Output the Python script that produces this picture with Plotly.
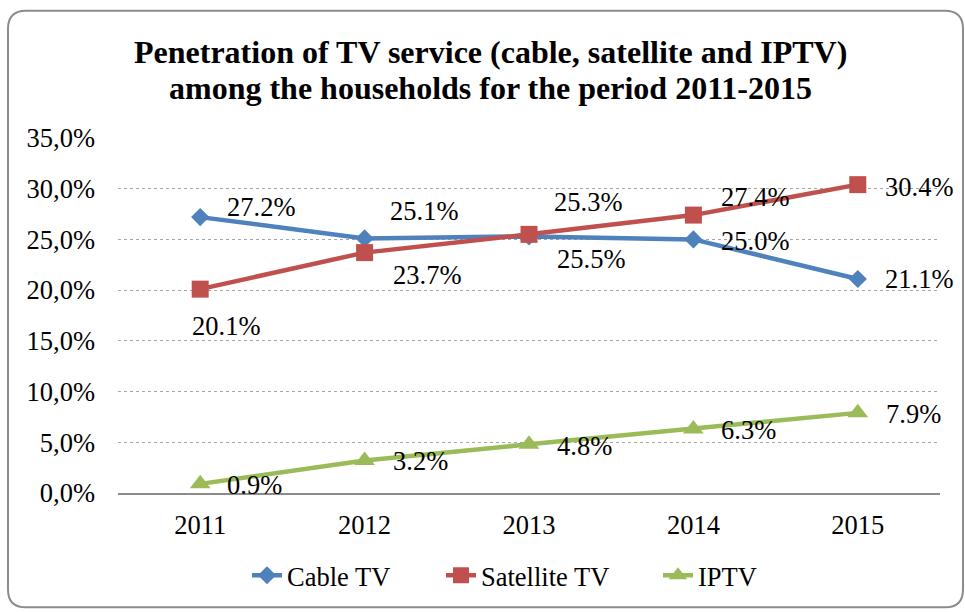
import plotly.graph_objects as go

# Survey years and penetration rates (% of households)
years = ["2011", "2012", "2013", "2014", "2015"]
cable_tv = [27.2, 25.1, 25.3, 25.0, 21.1]
satellite_tv = [20.1, 23.7, 25.5, 27.4, 30.4]
iptv = [0.9, 3.2, 4.8, 6.3, 7.9]

y_ticks = [0, 5, 10, 15, 20, 25, 30, 35]
y_tick_labels = ["0,0%", "5,0%", "10,0%", "15,0%", "20,0%", "25,0%", "30,0%", "35,0%"]

# Pixel nudges for each data label so they don't collide
cable_label_dx = [25, 23, 23, 26, 25]
cable_label_dy = [10, 27, 34, -2, 0]
satellite_label_dx = [-10, 26, 26, 26, 25]
satellite_label_dy = [-37, -22, -25, 18, -2]
iptv_label_dx = [25, 26, 26, 26, 26]
iptv_label_dy = [-1, 0, -2, -1, -1]

FONT = "Liberation Serif, Times New Roman, serif"
FS = 26.5
BLUE, RED, GREEN = "#4F81BD", "#C0504D", "#9BBB59"

W, H = 965, 612
L, R, T, B = 118, 25, 138, 117
PW, PH = W - L - R, H - T - B


def px_to_paper(px, py):
    return (px - L) / PW, (H - B - py) / PH


fig = go.Figure()
series = [
    ("Cable TV", cable_tv, BLUE, "diamond", 14, "legend", 247),
    ("Satellite TV", satellite_tv, RED, "square", 17, "legend2", 441),
    ("IPTV", iptv, GREEN, "triangle-up", 18, "legend3", 658),
]
legend_layout = {}
for name, vals, color, symbol, size, leg, leg_px in series:
    fig.add_trace(go.Scatter(
        x=years, y=vals, name=name, mode="lines+markers",
        line=dict(color=color, width=4.5),
        marker=dict(symbol=symbol, size=size, color=color, line=dict(width=0)),
        legend=leg,
    ))
    lx, ly = px_to_paper(leg_px, 578)
    legend_layout[leg] = dict(
        orientation="h", x=lx, y=ly, xanchor="left", yanchor="middle",
        font=dict(family=FONT, size=FS, color="black"),
        bgcolor="rgba(0,0,0,0)", itemsizing="trace",
    )

annotations = []
for vals, dxs, dys in [
    (cable_tv, cable_label_dx, cable_label_dy),
    (satellite_tv, satellite_label_dx, satellite_label_dy),
    (iptv, iptv_label_dx, iptv_label_dy),
]:
    for i, (v, dx, dy) in enumerate(zip(vals, dxs, dys)):
        annotations.append(dict(
            x=i, y=v, xref="x", yref="y", text=f"{v:.1f}%",
            showarrow=False, xanchor="left", yanchor="middle",
            xshift=dx, yshift=dy,
            font=dict(family=FONT, size=FS, color="black"),
        ))

# Two-line bold chart title
title_lines = [
    ("Penetration of TV service (cable, satellite and IPTV)", 52),
    ("among the households for the period 2011-2015", 88),
]
for line, py in title_lines:
    tx, ty = px_to_paper(490, py)
    annotations.append(dict(
        x=tx, y=ty, xref="paper", yref="paper", showarrow=False,
        xanchor="center", yanchor="middle", text=f"<b>{line}</b>",
        font=dict(family=FONT, size=32, color="black"),
    ))
fig.update_layout(annotations=annotations)

# Rounded outer frame
x0, y0 = px_to_paper(8, 610)
x1, y1 = px_to_paper(963, 10)
rx, ry = 18 / PW, 18 / PH
path = (f"M {x0 + rx},{y1} L {x1 - rx},{y1} Q {x1},{y1} {x1},{y1 - ry} "
        f"L {x1},{y0 + ry} Q {x1},{y0} {x1 - rx},{y0} "
        f"L {x0 + rx},{y0} Q {x0},{y0} {x0},{y0 + ry} "
        f"L {x0},{y1 - ry} Q {x0},{y1} {x0 + rx},{y1} Z")
fig.add_shape(type="path", path=path, xref="paper", yref="paper",
              line=dict(color="#8c8c8c", width=2), layer="below")

fig.update_layout(
    width=W, height=H,
    margin=dict(l=L, r=R, t=T, b=B),
    paper_bgcolor="white", plot_bgcolor="white",
    font=dict(family=FONT, size=FS, color="black"),
    showlegend=True,
    **legend_layout,
    xaxis=dict(
        type="category", range=[-0.5, 4.5],
        showgrid=False, showline=True, linecolor="#8c8c8c", linewidth=2,
        ticks="", ticklabelstandoff=7,
        tickfont=dict(family=FONT, size=FS, color="black"),
        zeroline=False,
    ),
    yaxis=dict(
        range=[0, 35], tickvals=y_ticks, ticktext=y_tick_labels,
        showgrid=True, gridcolor="#a6a6a6", gridwidth=1, griddash="dot",
        showline=False, zeroline=False, ticks="", ticklabelstandoff=22,
        tickfont=dict(family=FONT, size=FS, color="black"),
    ),
)

fig.write_html("out.html")
